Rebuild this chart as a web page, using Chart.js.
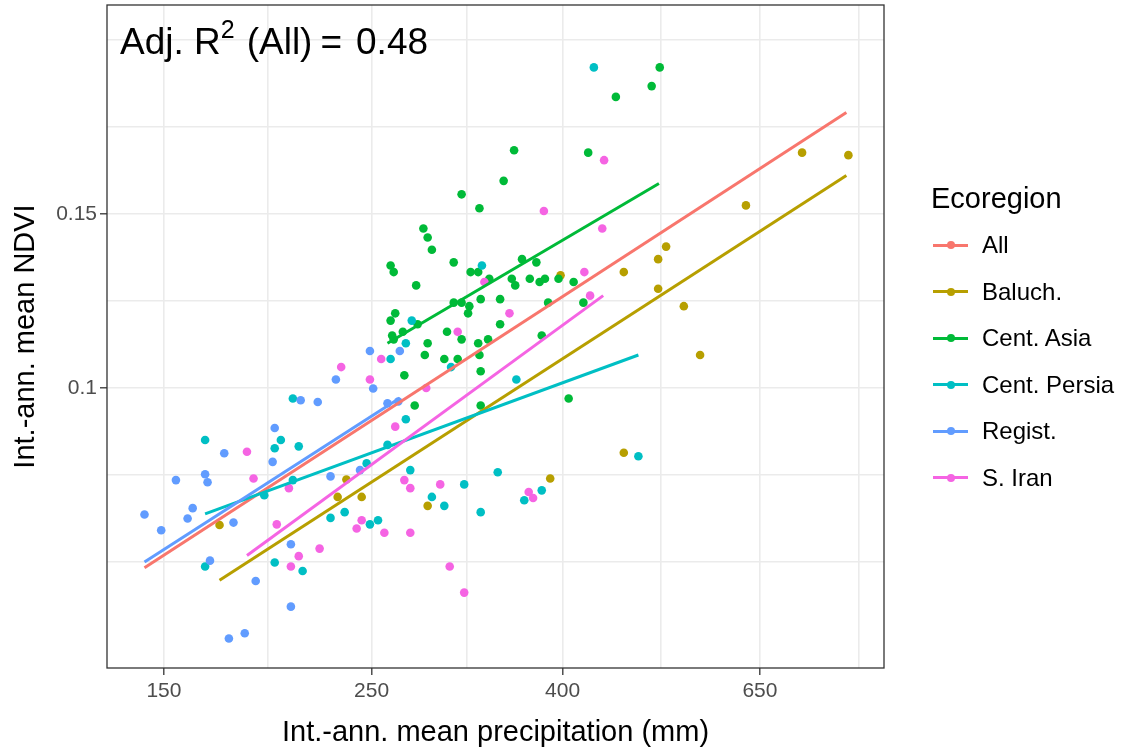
<!DOCTYPE html>
<html>
<head>
<meta charset="utf-8">
<script src="https://cdn.jsdelivr.net/npm/chart.js@4.4.1/dist/chart.umd.min.js"></script>
<style>
  body { margin: 0; background: #fff; }
  #wrap { position: relative; width: 1124px; height: 755px; font-family: 'Liberation Sans', Arial, sans-serif; }
  #chart { position: absolute; left: 0; top: 0; }
  #note { position: absolute; left: 120px; top: 8px; font-size: 37px; color: #000; white-space: pre; line-height: 48px; }
  #note sup { font-size: 25px; position: relative; top: -3px; margin-right: 12px; }
  #note .eq { margin: 0 14px 0 8px; }
  #legend { position: absolute; left: 931px; top: 178px; color: #000; }
  #legend .title { font-size: 29px; height: 40px; line-height: 40px; margin-bottom: 4px; }
  #legend .item { height: 46.5px; display: flex; align-items: center; font-size: 24px; }
  #legend .key { position: relative; width: 37px; height: 24px; margin-right: 14px; }
  #legend .key .ln { position: absolute; left: 2px; right: 0; top: 10.5px; height: 3px; }
  #legend .key .dot { position: absolute; left: 16px; top: 8px; width: 8px; height: 8px; border-radius: 50%; }
</style>
</head>
<body>
<div id="wrap">
  <canvas id="chart" width="1124" height="755"></canvas>
  <div id="note">Adj. R<sup>2</sup>(All)<span class="eq">=</span>0.48</div>
  <div id="legend"></div>
</div>
<script>
// groups and colours (ggplot hue palette)
const groups = ['All', 'Baluch.', 'Cent. Asia', 'Cent. Persia', 'Regist.', 'S. Iran'];
const colors = ['#F8766D', '#B79F00', '#00BA38', '#00BFC4', '#619CFF', '#F564E3'];

// axis breaks
const xTicks = [150, 250, 400, 650];
const yTicks = [0.1, 0.15];

// points per ecoregion: precipitation (mm) and NDVI
const baluchPrecip = [721, 808, 628, 516, 506, 465, 506, 539, 561, 465, 388, 287, 235, 230, 244, 172, 398];
const baluchNdvi = [0.173, 0.172, 0.153, 0.139, 0.135, 0.131, 0.126, 0.121, 0.108, 0.086, 0.081, 0.076, 0.0808, 0.0776, 0.0776, 0.0727, 0.130];

const asiaPrecip = [508, 498, 456, 355, 426, 346, 312, 326, 284, 287, 290, 262, 264, 306, 319, 325, 334, 279, 362, 375,
  353, 356, 369, 378, 383, 396, 411, 421, 386, 343, 327, 306, 312, 318, 317, 265, 262, 280, 343, 301,
  312, 263, 264, 270, 333, 380, 287, 285, 325, 326, 299, 309, 271, 327, 406, 278, 327];
const asiaNdvi = [0.211, 0.202, 0.197, 0.174, 0.173, 0.162, 0.157, 0.152, 0.145, 0.142, 0.138, 0.133, 0.131, 0.134, 0.131, 0.131, 0.129, 0.127, 0.135, 0.134,
  0.129, 0.127, 0.129, 0.128, 0.129, 0.129, 0.128, 0.122, 0.122, 0.123, 0.123, 0.122, 0.122, 0.121, 0.119, 0.119, 0.117, 0.116, 0.116, 0.114,
  0.112, 0.113, 0.112, 0.114, 0.112, 0.113, 0.111, 0.108, 0.111, 0.108, 0.107, 0.107, 0.103, 0.104, 0.0976, 0.096, 0.096];

const persiaPrecip = [432, 328, 276, 272, 262, 304, 357, 206, 166, 200, 197, 209, 247, 206, 192, 226, 234, 249, 197, 211,
  166, 275, 314, 341, 290, 299, 327, 364, 380, 254, 260, 272, 482];
const persiaNdvi = [0.211, 0.133, 0.117, 0.111, 0.107, 0.105, 0.102, 0.0976, 0.0886, 0.0886, 0.0869, 0.0873, 0.0839, 0.0807, 0.0779, 0.0739, 0.0749, 0.0728, 0.0666, 0.0653,
  0.066, 0.0826, 0.0799, 0.0822, 0.0776, 0.076, 0.0749, 0.077, 0.0788, 0.0735, 0.0876, 0.093, 0.0853];

const registPrecip = [249, 229, 251, 210, 219, 197, 174, 268, 260, 267, 196, 154.5, 166, 167, 226, 243, 143, 161, 159, 149,
  178, 205, 168, 188, 205, 176, 183];
const registNdvi = [0.109, 0.102, 0.0999, 0.0972, 0.0968, 0.0911, 0.0859, 0.109, 0.0965, 0.0969, 0.0842, 0.0807, 0.0818, 0.0803, 0.0814, 0.0826, 0.0745, 0.0756, 0.0738, 0.0718,
  0.0731, 0.0695, 0.0669, 0.0638, 0.0601, 0.0558, 0.0565];

const iranPrecip = [443, 382, 441, 330, 422, 428, 351, 309, 232, 249, 256, 286, 265, 184, 187, 204, 198, 244, 241, 220,
  209, 205, 271, 275, 296, 368, 372, 258, 275, 303, 314];
const iranNdvi = [0.170, 0.151, 0.145, 0.128, 0.131, 0.124, 0.119, 0.114, 0.105, 0.102, 0.107, 0.100, 0.0914, 0.0862, 0.081, 0.0792, 0.0728, 0.0735, 0.0721, 0.0688,
  0.0676, 0.066, 0.0807, 0.0792, 0.0799, 0.0785, 0.0774, 0.0714, 0.0714, 0.066, 0.0621];

// fitted lines (end points, log-log)
const allFitPrecip = [143, 804], allFitNdvi = [0.0658, 0.190];
const baluchFitPrecip = [172, 804], baluchFitNdvi = [0.0639, 0.164];
const asiaFitPrecip = [260, 507], asiaFitNdvi = [0.111, 0.161];
const persiaFitPrecip = [166, 482], persiaFitNdvi = [0.0746, 0.108];
const registFitPrecip = [143, 268], registFitNdvi = [0.0667, 0.0977];
const iranFitPrecip = [184, 442], iranFitNdvi = [0.0677, 0.124];

const pts = (xs, ys) => xs.map((x, i) => ({ x, y: ys[i] }));

// minor grid lines sit half way between breaks (in log space), ggplot style
function withMinors(breaks) {
  const out = [];
  const n = breaks.length;
  const ext = [breaks[0] * breaks[0] / breaks[1], ...breaks, breaks[n - 1] * breaks[n - 1] / breaks[n - 2]];
  for (let i = 0; i < ext.length - 1; i++) {
    out.push(ext[i], Math.sqrt(ext[i] * ext[i + 1]));
  }
  out.push(ext[ext.length - 1]);
  return out;
}

const pointSets = [
  [baluchPrecip, baluchNdvi, colors[1]],
  [asiaPrecip, asiaNdvi, colors[2]],
  [persiaPrecip, persiaNdvi, colors[3]],
  [registPrecip, registNdvi, colors[4]],
  [iranPrecip, iranNdvi, colors[5]]
];
const fitSets = [
  [allFitPrecip, allFitNdvi, colors[0]],
  [baluchFitPrecip, baluchFitNdvi, colors[1]],
  [asiaFitPrecip, asiaFitNdvi, colors[2]],
  [persiaFitPrecip, persiaFitNdvi, colors[3]],
  [registFitPrecip, registFitNdvi, colors[4]],
  [iranFitPrecip, iranFitNdvi, colors[5]]
];

const datasets = [];
pointSets.forEach(([xs, ys, c], i) => {
  datasets.push({
    data: pts(xs, ys), backgroundColor: c, borderWidth: 0,
    pointRadius: 4.3, pointHoverRadius: 4.3, order: 20 - i
  });
});
fitSets.forEach(([xs, ys, c], i) => {
  datasets.push({
    data: pts(xs, ys), showLine: true, borderColor: c, borderWidth: 3,
    pointRadius: 0, order: 6 - i
  });
});

const gridColor = '#ebebeb';
const isMajor = (list, v) => list.some(t => Math.abs(t - v) / t < 1e-6);
const buildTicks = breaks => s => {
  s.ticks = withMinors(breaks).filter(v => v >= s.min && v <= s.max).map(v => ({ value: v }));
};

const panelBorder = {
  id: 'panelBorder',
  afterDatasetsDraw(chart) {
    const { ctx, chartArea: a } = chart;
    ctx.save();
    ctx.strokeStyle = '#333333';
    ctx.lineWidth = 1.3;
    ctx.strokeRect(a.left, a.top, a.right - a.left, a.bottom - a.top);
    ctx.restore();
  }
};

Chart.defaults.font.family = "'Liberation Sans', Arial, sans-serif";

new Chart(document.getElementById('chart'), {
  type: 'scatter',
  data: { datasets },
  options: {
    responsive: false,
    animation: false,
    layout: { padding: { left: 0, right: 240, top: 5, bottom: 0 } },
    plugins: { legend: { display: false }, tooltip: { enabled: false } },
    scales: {
      x: {
        type: 'logarithmic',
        min: 130.4, max: 882,
        afterFit: s => { s.height = 87; s.paddingLeft = 0; s.paddingRight = 0; },
        afterBuildTicks: buildTicks(xTicks),
        border: { display: false },
        grid: {
          color: gridColor, lineWidth: 1.6, tickLength: 7, tickWidth: 1.3,
          tickColor: c => isMajor(xTicks, c.tick.value) ? '#333333' : 'rgba(0,0,0,0)'
        },
        ticks: {
          autoSkip: false, maxRotation: 0, padding: 4, color: '#4d4d4d', font: { size: 21 },
          callback: v => isMajor(xTicks, v) ? String(Math.round(v)) : ''
        },
        title: {
          display: true, text: 'Int.-ann. mean precipitation (mm)', color: '#000',
          font: { size: 29 }, padding: { top: 0, bottom: 5 }
        }
      },
      y: {
        type: 'logarithmic',
        min: 0.0521, max: 0.244,
        afterFit: s => { s.width = 107; s.paddingTop = 0; s.paddingBottom = 0; },
        afterBuildTicks: buildTicks(yTicks),
        border: { display: false },
        grid: {
          color: gridColor, lineWidth: 1.6, tickLength: 7, tickWidth: 1.3,
          tickColor: c => isMajor(yTicks, c.tick.value) ? '#333333' : 'rgba(0,0,0,0)'
        },
        ticks: {
          autoSkip: false, padding: 3, color: '#4d4d4d', font: { size: 21 },
          callback: v => isMajor(yTicks, v) ? String(+v.toFixed(2)) : ''
        },
        title: {
          display: true, text: 'Int.-ann. mean NDVI', color: '#000',
          font: { size: 29 }, padding: { top: 9, bottom: 0 }
        }
      }
    }
  },
  plugins: [panelBorder]
});

// legend
const legend = document.getElementById('legend');
legend.innerHTML = '<div class="title">Ecoregion</div>' + groups.map((g, i) =>
  `<div class="item"><div class="key"><div class="ln" style="background:${colors[i]}"></div>` +
  `<div class="dot" style="background:${colors[i]}"></div></div><span>${g}</span></div>`).join('');
</script>
</body>
</html>
